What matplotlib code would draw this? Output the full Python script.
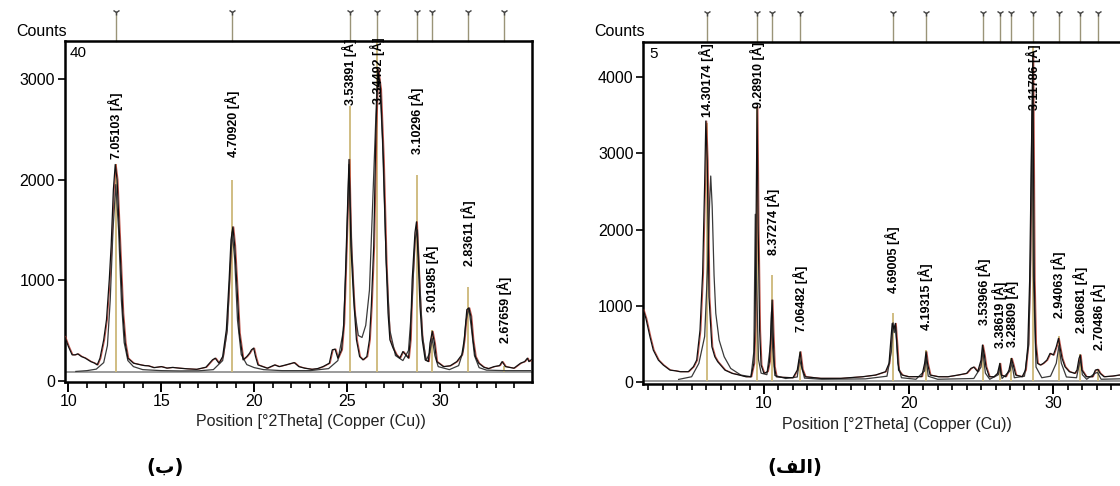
import matplotlib
matplotlib.use("Agg")
import matplotlib.pyplot as plt
from matplotlib.ticker import MultipleLocator
from matplotlib.transforms import offset_copy

plt.rcParams['font.family'] = ['Liberation Sans', 'DejaVu Sans']

# ---------------- data: panel (ب) (left) ----------------
b_scan_a_x = [9.8, 10.0, 10.2, 10.36, 10.5, 10.7, 10.9, 11.2, 11.4, 11.55, 11.7, 11.9, 12.05, 12.2, 12.3, 12.42,
              12.52, 12.62, 12.75, 12.93, 13.06, 13.2, 13.5, 13.9, 14.1, 14.3, 14.6, 15.0, 15.3, 15.6, 16.0, 16.4,
              16.9, 17.4, 17.75, 17.9, 18.1, 18.3, 18.5, 18.65, 18.75, 18.85, 18.95, 19.08, 19.2, 19.4, 19.6, 19.75,
              19.85, 19.97, 20.07, 20.2, 20.7, 21.1, 21.34, 21.7, 22.15, 22.4, 22.7, 23.1, 23.4, 23.7, 24.04, 24.2,
              24.35, 24.5, 24.7, 24.82, 24.9, 25.0, 25.1, 25.2, 25.34, 25.5, 25.67, 25.85, 26.06, 26.2, 26.3, 26.43,
              26.55, 26.65, 26.8, 26.95, 27.1, 27.2, 27.3, 27.47, 27.65, 27.83, 28.0, 28.15, 28.3, 28.4, 28.5, 28.65,
              28.73, 28.83, 28.92, 29.04, 29.2, 29.37, 29.46, 29.58, 29.7, 29.82, 30.18, 30.54, 30.9, 31.17, 31.3,
              31.44, 31.55, 31.66, 31.77, 31.9, 32.08, 32.35, 32.6, 32.9, 33.2, 33.34, 33.52, 33.97, 34.33, 34.55,
              34.7, 34.78, 34.92]
b_scan_a_y = [440, 340, 257, 257, 267, 240, 225, 190, 175, 157, 224, 407, 607, 1007, 1340, 1900,
              2150, 2000, 1450, 674, 374, 224, 174, 157, 150, 148, 130, 140, 125, 132, 124, 118,
              113, 134, 207, 224, 174, 240, 507, 1007, 1400, 1530, 1340, 907, 474, 207, 240, 274,
              307, 324, 240, 157, 124, 157, 140, 157, 180, 140, 125, 113, 120, 140, 174, 307,
              314, 224, 307, 574, 1007, 1600, 2200, 1340, 840, 407, 240, 207, 240, 407, 741, 1340,
              2500, 3100, 2900, 2200, 1174, 674, 407, 324, 257, 224, 290, 257, 224, 407, 1007, 1474,
              1580, 1174, 741, 407, 207, 190, 374, 491, 374, 190, 140, 148, 190, 257, 407,
              707, 724, 641, 407, 240, 174, 134, 120, 140, 150, 190, 140, 124, 174, 190,
              224, 190, 210]

b_scan_b_x = [10.4, 11.0, 11.5, 11.9, 12.1, 12.25, 12.4, 12.55, 12.7, 12.85, 13.0, 13.2, 13.5, 14.0, 15.0, 16.0,
              17.0, 17.8, 18.3, 18.55, 18.7, 18.82, 18.95, 19.1, 19.3, 19.6, 20.0, 20.5, 21.5, 23.0, 24.0, 24.5,
              24.8, 24.95, 25.1, 25.25, 25.4, 25.6, 25.8, 26.0, 26.2, 26.4, 26.6, 26.75, 26.9, 27.1, 27.3, 27.6,
              28.0, 28.3, 28.5, 28.65, 28.78, 28.9, 29.05, 29.25, 29.45, 29.58, 29.72, 29.9, 30.5, 31.0, 31.25,
              31.4, 31.55, 31.7, 31.85, 32.1, 32.5, 33.5, 34.92]
b_scan_b_y = [92, 100, 115, 180, 350, 800, 1500, 1950, 1500, 800, 380, 200, 140, 110, 100, 97,
              98, 110, 200, 500, 1100, 1480, 1200, 600, 260, 160, 130, 110, 100, 100, 120, 200,
              500, 1200, 2150, 1300, 700, 450, 430, 550, 900, 1900, 2900, 3000, 2400, 1200, 500, 250,
              200, 300, 800, 1400, 1500, 1000, 450, 200, 280, 420, 250, 140, 110, 150, 300,
              600, 720, 500, 250, 130, 105, 100, 100]

b_baseline = 90
b_peak_pos = [12.55, 18.83, 25.14, 26.63, 28.75, 29.56, 31.52, 33.45]
b_stick_h = [2150, 2000, 2730, 3380, 2050, 500, 935, 150]
b_labels = ["7.05103 [Å]", "4.70920 [Å]", "3.53891 [Å]", "3.34492 [Å]",
            "3.10296 [Å]", "3.01985 [Å]", "2.83611 [Å]", "2.67659 [Å]"]
b_label_y = [2207, 2227, 2737, 2750, 2257, 687, 1137, 377]

# ---------------- data: panel (الف) (right) ----------------
a_scan_a_x = [1.66, 1.84, 2.12, 2.35, 2.7, 3.04, 3.5, 3.9, 4.2, 4.77, 5.12, 5.35, 5.58, 5.76, 5.9, 5.98, 6.08,
              6.2, 6.4, 6.6, 6.8, 7.3, 7.8, 8.3, 8.75, 9.1, 9.3, 9.38, 9.45, 9.52, 9.6, 9.7, 9.8, 10.0, 10.24,
              10.38, 10.48, 10.56, 10.64, 10.72, 10.85, 11.3, 12.0, 12.3, 12.5, 12.65, 12.85, 13.9, 15.3, 16.8,
              17.7, 18.4, 18.64, 18.75, 18.86, 18.98, 19.08, 19.2, 19.3, 19.55, 20.0, 20.9, 21.1, 21.2, 21.3,
              21.48, 22.05, 22.7, 23.4, 24.0, 24.3, 24.5, 24.77, 25.0, 25.1, 25.23, 25.34, 25.57, 25.9, 26.14,
              26.3, 26.4, 26.7, 26.93, 27.1, 27.23, 27.4, 27.84, 28.07, 28.23, 28.36, 28.48, 28.58, 28.68, 28.77,
              28.9, 29.1, 29.3, 29.55, 29.77, 30.0, 30.2, 30.35, 30.45, 30.6, 30.8, 31.1, 31.48, 31.63, 31.77,
              31.86, 31.97, 32.27, 32.7, 32.9, 33.07, 33.23, 33.5, 34.1, 34.55, 35.6]
a_scan_a_y = [946, 837, 597, 422, 291, 226, 160, 150, 139, 139, 204, 291, 684, 1426, 2600, 3420, 2900,
              1120, 466, 335, 270, 160, 117, 95, 73, 73, 248, 728, 2000, 3600, 2000, 684, 226, 117, 140,
              270, 700, 1077, 600, 204, 73, 65, 60, 160, 400, 170, 73, 52, 52, 73,
              95, 139, 248, 510, 770, 700, 771, 466, 160, 95, 73, 75, 248, 400, 248,
              95, 73, 73, 95, 117, 182, 200, 139, 291, 488, 357, 204, 73, 73, 117,
              248, 95, 73, 160, 313, 226, 95, 73, 160, 466, 1338, 3000, 4300, 1338, 510,
              248, 226, 248, 291, 379, 357, 466, 575, 466, 313, 204, 139, 117, 160, 313,
              357, 160, 73, 73, 160, 169, 117, 73, 82, 95, 110]

a_scan_b_x = [4.1, 5.0, 5.5, 5.9, 6.1, 6.25, 6.32, 6.42, 6.55, 6.67, 6.9, 7.25, 7.7, 8.4, 9.1, 9.3, 9.4, 9.5,
              9.62, 9.8, 10.2, 10.45, 10.52, 10.6, 10.75, 11.5, 12.3, 12.45, 12.6, 12.8, 14.0, 17.0, 18.5, 18.8,
              18.92, 19.0, 19.1, 19.25, 19.5, 20.5, 21.1, 21.2, 21.35, 22.0, 24.5, 25.0, 25.12, 25.3, 25.6, 26.2,
              26.3, 26.45, 27.0, 27.12, 27.3, 28.0, 28.3, 28.42, 28.52, 28.62, 28.8, 29.2, 29.8, 30.2, 30.38,
              30.55, 30.9, 31.6, 31.8, 31.88, 32.0, 32.3, 32.9, 33.05, 33.3, 35.6]
a_scan_b_y = [38, 73, 248, 600, 1500, 2400, 2700, 2300, 1400, 902, 553, 335, 182, 95, 73, 400, 2200, 1200,
              300, 120, 100, 500, 924, 450, 90, 50, 70, 300, 200, 55, 40, 45, 80, 400,
              780, 650, 730, 250, 60, 40, 150, 330, 80, 40, 50, 200, 420, 120, 40, 100,
              200, 50, 150, 260, 60, 80, 500, 1600, 3600, 1400, 200, 60, 80, 250, 480,
              250, 70, 60, 250, 300, 100, 40, 120, 130, 40, 50]

a_baseline = 20
a_peak_pos = [6.04, 9.52, 10.56, 12.52, 18.91, 21.17, 25.14, 26.30, 27.10, 28.61, 30.37, 31.86, 33.09]
a_stick_h = [3400, 3600, 1404, 400, 911, 420, 488, 250, 320, 4400, 600, 370, 170]
a_labels = ["14.30174 [Å]", "9.28910 [Å]", "8.37274 [Å]", "7.06482 [Å]", "4.69005 [Å]",
            "4.19315 [Å]", "3.53966 [Å]", "3.38619 [Å]", "3.28809 [Å]", "3.11786 [Å]",
            "2.94063 [Å]", "2.80681 [Å]", "2.70486 [Å]"]
a_label_y = [3473, 3590, 1662, 660, 1165, 680, 750, 450, 464, 3560, 838, 640, 425]

W, H = 1120, 486
fig = plt.figure(figsize=(W / 100, H / 100), dpi=100)


def px_axes(x0, x1, y0, y1):
    return fig.add_axes([x0 / W, 1 - y1 / H, (x1 - x0) / W, (y1 - y0) / H])


STICK = '#cdb878'
LABEL_FONT = ['Liberation Sans', 'DejaVu Sans']


def draw_panel(ax, xa, ya, xb, yb, base, pos, sh, labels, ly, xlim, ylim, major, ymax_tick, corner):
    ax.set_xlim(*xlim)
    ax.set_ylim(*ylim)
    ax.axhline(base, color='#8a8a8a', lw=1.2, zorder=1)
    ax.vlines(pos, base, sh, color=STICK, lw=1.3, zorder=2)
    red_tr = offset_copy(ax.transData, fig=fig, x=0.9, y=0, units='dots')
    ax.plot(xa, ya, color='#b83a30', lw=0.8, alpha=0.85, transform=red_tr, zorder=3)
    ax.plot(xb, yb, color='#3a3a3a', lw=0.9, zorder=4)
    ax.plot(xa, ya, color='#111111', lw=0.9, zorder=5)
    for p, t, y in zip(pos, labels, ly):
        ax.text(p, y, t, rotation=90, ha='center', va='bottom', fontsize=9,
                fontweight='bold', family=LABEL_FONT, zorder=6)
    xt = ax.get_xaxis_transform()
    for p in pos:
        ax.plot([p, p], [1.0, 1.083], transform=xt, color='#9a9478', lw=1.0,
                clip_on=False, zorder=1)
        ax.plot([p], [1.083], transform=xt, marker='1', color='#444444', ms=5,
                mew=1.0, clip_on=False)
    for s in ax.spines.values():
        s.set_linewidth(1.8)
    ax.xaxis.set_major_locator(MultipleLocator(major))
    ax.xaxis.set_minor_locator(MultipleLocator(1))
    ax.set_yticks(list(range(0, ymax_tick + 1, 1000)))
    ax.tick_params(axis='x', which='major', direction='out', length=7, width=1.4,
                   labelsize=11.5, pad=2)
    ax.tick_params(axis='x', which='minor', direction='out', length=4, width=1.2)
    ax.tick_params(axis='y', which='major', direction='out', length=5, width=1.2,
                   labelsize=11.5, pad=2)
    ax.set_xlabel("Position [°2Theta] (Copper (Cu))", fontsize=11.5, color='#222222')
    ax.text(0.012, 0.985, corner, transform=ax.transAxes, ha='left', va='top', fontsize=11)


# left panel (ب)
axL = px_axes(64.5, 531.5, 40.7, 381.7)
draw_panel(axL, b_scan_a_x, b_scan_a_y, b_scan_b_x, b_scan_b_y, b_baseline,
           b_peak_pos, b_stick_h, b_labels, b_label_y,
           (9.79, 34.92), (-10, 3381), 5, 3000, "40")
axL.xaxis.set_label_coords((311 - 64.5) / (531.5 - 64.5), -0.095)

# right panel (الف)
axR = px_axes(643.3, 1135, 41.7, 384)
draw_panel(axR, a_scan_a_x, a_scan_a_y, a_scan_b_x, a_scan_b_y, a_baseline,
           a_peak_pos, a_stick_h, a_labels, a_label_y,
           (1.66, 35.64), (-22, 4458), 10, 4000, "5")
axR.xaxis.set_label_coords((897 - 643.3) / (1135 - 643.3), -0.095)

fig.text(67 / W, 1 - 31 / H, "Counts", ha='right', va='center', fontsize=11.5)
fig.text(645 / W, 1 - 32 / H, "Counts", ha='right', va='center', fontsize=11.5)

fig.text(165 / W, 1 - 468 / H, "(ب)", ha='center', va='center', fontsize=14,
         fontweight='bold', family=['DejaVu Sans'])
fig.text(795 / W, 1 - 468 / H, "(\uFED2\uFEDF\u0627)", ha='center', va='center', fontsize=14,
         fontweight='bold', family=['DejaVu Sans'])

fig.savefig("out.png", dpi=100)
